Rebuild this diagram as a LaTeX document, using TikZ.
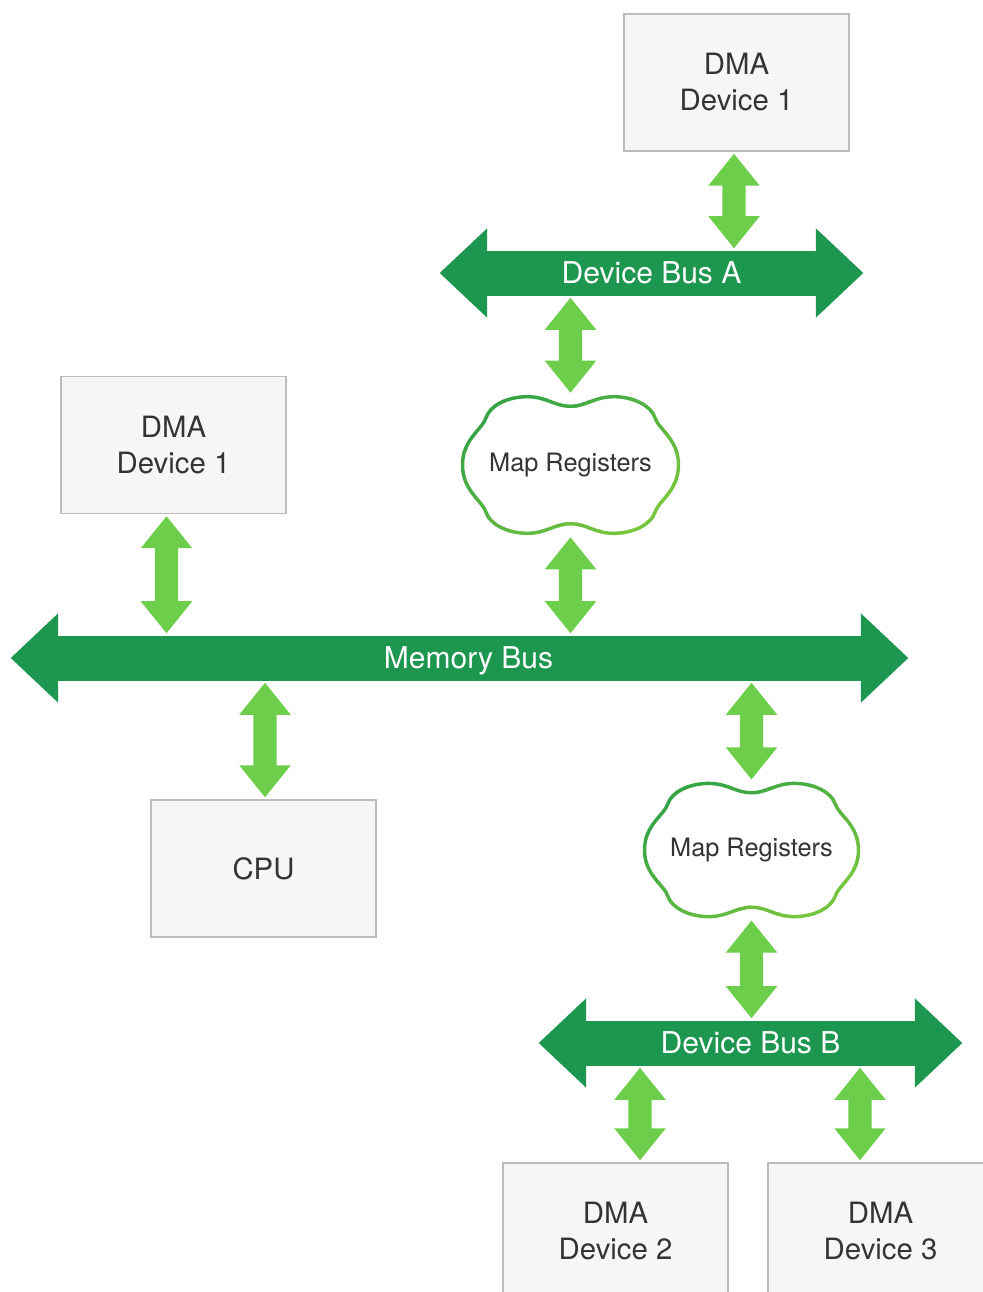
\documentclass[tikz,border=0pt]{standalone}
\usepackage{fontspec}
\setmainfont{TeX Gyre Heros}
\usetikzlibrary{calc}

\definecolor{busgreen}{RGB}{29,150,80}
\definecolor{linkgreen}{RGB}{108,206,74}
\definecolor{boxfill}{RGB}{246,246,246}
\definecolor{boxline}{RGB}{188,188,188}
\definecolor{txt}{RGB}{52,52,52}
\definecolor{cloudA}{RGB}{44,160,70}
\definecolor{cloudB}{RGB}{128,202,62}

\tikzset{
  devbox/.style={draw=boxline, fill=boxfill, line width=1.1pt,
    minimum width=168.75pt, minimum height=102.75pt, inner sep=0pt,
    align=center, text=txt, font=\fontsize{22}{27}\selectfont},
  shaft/.style={fill=busgreen, inner sep=0pt, minimum height=33.75pt,
    text=white, font=\fontsize{22.5}{27}\selectfont},
  bustext/.style={inner sep=0pt, text=white, font=\fontsize{22.5}{27}\selectfont},
  cloudtext/.style={inner sep=0pt, text=txt, font=\fontsize{19}{23}\selectfont},
  link/.style={fill=linkgreen},
}

% scalloped outline on the unit box: two lobes top and bottom, one bulge per side
\newcommand\cloudpath{%
  (0,-0.86) .. controls (0.15,-0.86) and (0.22,-1) .. (0.4,-1)
  .. controls (0.6,-1) and (0.75,-0.85) .. (0.78,-0.7)
  .. controls (0.815,-0.52) and (1,-0.38) .. (1,0)
  .. controls (1,0.38) and (0.815,0.52) .. (0.78,0.7)
  .. controls (0.75,0.85) and (0.6,1) .. (0.4,1)
  .. controls (0.22,1) and (0.15,0.86) .. (0,0.86)
  .. controls (-0.15,0.86) and (-0.22,1) .. (-0.4,1)
  .. controls (-0.6,1) and (-0.75,0.85) .. (-0.78,0.7)
  .. controls (-0.815,0.52) and (-1,0.38) .. (-1,0)
  .. controls (-1,-0.38) and (-0.815,-0.52) .. (-0.78,-0.7)
  .. controls (-0.75,-0.85) and (-0.6,-1) .. (-0.4,-1)
  .. controls (-0.22,-1) and (-0.15,-0.86) .. (0,-0.86) -- cycle}

% cloud centred at (#2,#3), rim half sizes #4 x #5, rim graded from
% dark (upper left) to light (lower right), plus its named text node
\newcommand\mapcloud[6]{%
  \begin{scope}[shift={(#2,#3)}, xscale=#4, yscale=#5]
    \fill[white] \cloudpath;
    \foreach \i in {0,...,9}{
      \pgfmathsetmacro\sa{-2+0.4*\i}
      \pgfmathtruncatemacro\pc{\i*100/9}
      \begin{scope}
        \clip ({\sa+2},-2) -- ({\sa+2.43},-2) -- ({\sa-1.57},2) -- ({\sa-2},2) -- cycle;
        \draw[cloudB!\pc!cloudA, line width=2.6pt] \cloudpath;
      \end{scope}}
  \end{scope}
  \node[cloudtext, minimum width=#4*1.5pt+2.6pt, minimum height=#5*1.5pt+2.6pt]
    (#1) at (#2,#3) {#6};}

% wide bus arrow heads on both ends of a shaft node
\newcommand\busheads[1]{%
  \fill[busgreen] ($(#1.north west)+(0.5,-22)$) -- ($(#1.west)+(-47,0)$)
    -- ($(#1.south west)+(0.5,22)$) -- cycle;
  \fill[busgreen] ($(#1.north east)+(-0.5,-22)$) -- ($(#1.east)+(47,0)$)
    -- ($(#1.south east)+(-0.5,22)$) -- cycle;}

% vertical two-headed link from #1 (upper) to #2 (lower), x taken from #1
\newcommand\vlink[2]{%
  \fill[link] let \p1=(#1), \p2=(#2) in
    ({\x1},{\y1-1.5pt}) -- ({\x1+19.3pt},{\y1-25.5pt}) -- ({\x1+8.8pt},{\y1-25.5pt})
    -- ({\x1+8.8pt},{\y2+25.5pt}) -- ({\x1+19.3pt},{\y2+25.5pt}) -- ({\x1},{\y2+1.5pt})
    -- ({\x1-19.3pt},{\y2+25.5pt}) -- ({\x1-8.8pt},{\y2+25.5pt})
    -- ({\x1-8.8pt},{\y1-25.5pt}) -- ({\x1-19.3pt},{\y1-25.5pt}) -- cycle;}

\begin{document}
\begin{tikzpicture}[x=0.75pt, y=-0.75pt]
\useasboundingbox (0,0) rectangle (982,1292);

% devices
\node[devbox] (dmaA) at (736.5,82.5) {DMA\\Device 1};
\node[devbox] (dmaB) at (173.5,445) {DMA\\Device 1};
\node[devbox] (cpu)  at (263.5,868.5) {CPU};
\node[devbox] (dmaC) at (615.5,1231.5) {DMA\\Device 2};
\node[devbox] (dmaD) at (880.5,1231.5) {DMA\\Device 3};

% buses
\node[shaft, minimum width=246.75pt] (busA) at (651.5,273) {Device Bus A};
\busheads{busA}
\node[shaft, minimum width=602.25pt] (memBus) at (459.5,658) {};
\busheads{memBus}
\node[bustext] (memBusLabel) at (468.5,660.5) {Memory Bus};
\node[shaft, minimum width=246.75pt] (busB) at (750.5,1043) {Device Bus B};
\busheads{busB}

% map registers
\mapcloud{mapA}{570.5}{465}{108}{68.3}{Map Registers}
\mapcloud{mapB}{751.5}{850}{107}{66.6}{Map Registers}

% links
\vlink{$(dmaA.south)+(-2.5,0)$}{busA.north}
\vlink{busA.south -| mapA.north}{mapA.north}
\vlink{mapA.south}{memBus.north}
\vlink{$(dmaB.south)+(-7,0)$}{memBus.north}
\vlink{$(memBus.south -| cpu.north)+(1.5,0)$}{cpu.north}
\vlink{memBus.south -| mapB.north}{mapB.north}
\vlink{mapB.south}{busB.north}
\vlink{$(busB.south -| dmaC.north)+(24.5,0)$}{dmaC.north}
\vlink{$(busB.south -| dmaD.north)+(-20.5,0)$}{dmaD.north}
\end{tikzpicture}
\end{document}
